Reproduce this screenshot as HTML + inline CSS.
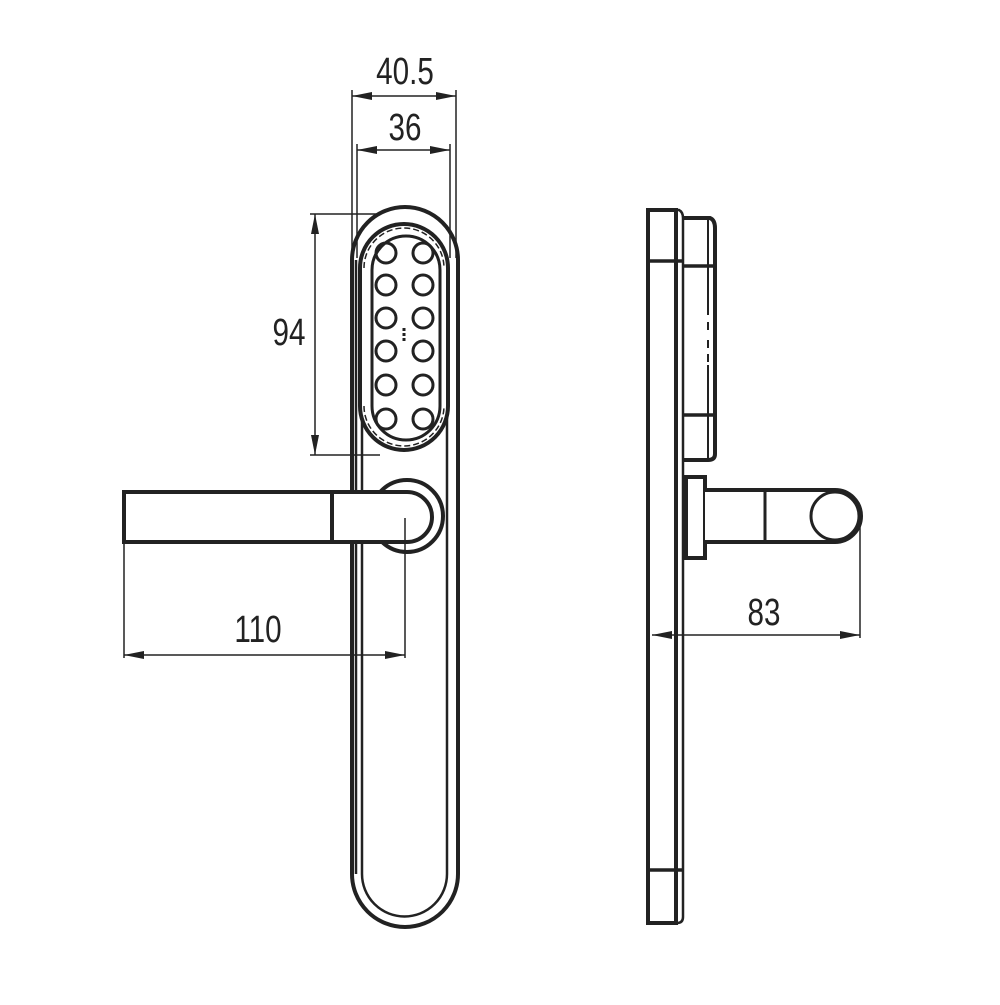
<!DOCTYPE html>
<html><head><meta charset="utf-8"><style>html,body{margin:0;padding:0;background:#fff}</style></head><body>
<svg width="1000" height="1000" viewBox="0 0 1000 1000" xmlns="http://www.w3.org/2000/svg">
<defs>
<marker id="a" viewBox="0 0 20 8" refX="20" refY="4" markerWidth="20" markerHeight="8" markerUnits="userSpaceOnUse" orient="auto-start-reverse"><path d="M0,0 L20,4 L0,8 Z" fill="#222"/></marker>
</defs>
<g fill="none" stroke="#222" stroke-linecap="butt">
<!-- front plate -->
<path d="M352,260 A53,53 0 0 1 458,260 L458,874 A53,53 0 0 1 352,874 Z" stroke-width="4"/>
<path d="M362,258 L362,874 A42,42 0 0 0 447,874 L447,258" stroke-width="2.5"/>
<path d="M356,260 L356,874" stroke-width="2.5"/>
<!-- keypad -->
<path d="M360,268 A44,44 0 0 1 448,268 L448,406 A44,44 0 0 1 360,406 Z" fill="#fff" stroke-width="4"/>
<path d="M372,270 A34,34 0 0 1 440,270 L440,406 A34,34 0 0 1 372,406 Z" stroke-width="3"/>
<path d="M364,268 A40,40 0 0 1 444,268" stroke-width="1.5" stroke-dasharray="6,3"/>
<path d="M364,406 A40,40 0 0 0 444,406" stroke-width="1.5" stroke-dasharray="6,3"/>
<g stroke-width="3">
<circle cx="386" cy="253" r="10"/><circle cx="423" cy="253" r="10"/>
<circle cx="386" cy="285" r="10"/><circle cx="423" cy="285" r="10"/>
<circle cx="386" cy="318" r="10"/><circle cx="423" cy="318" r="10"/>
<circle cx="386" cy="351" r="10"/><circle cx="423" cy="351" r="10"/>
<circle cx="386" cy="385" r="10"/><circle cx="423" cy="385" r="10"/>
<circle cx="386" cy="419" r="10"/><circle cx="423" cy="419" r="10"/>
</g>
<path d="M404,328 L404,342" stroke-width="3" stroke-dasharray="3,2"/>
<!-- rose & lever -->
<circle cx="407" cy="516" r="36" fill="#fff" stroke-width="4"/>
<path d="M124,492 L407,492 A25,25 0 0 1 407,542 L124,542 Z" fill="#fff" stroke-width="4"/>
<path d="M124,492 L124,542" stroke-width="1.5"/>
<path d="M332,492 L332,542" stroke-width="4"/>
<!-- dims front -->
<g stroke-width="1.5">
<path d="M352,90 L352,258 M456,90 L456,258"/>
<path d="M352,96 L456,96" marker-start="url(#a)" marker-end="url(#a)"/>
<path d="M357,144 L357,258 M450,144 L450,258"/>
<path d="M357,150 L450,150" marker-start="url(#a)" marker-end="url(#a)"/>
<path d="M310,214 L380,214 M310,455 L380,455"/>
<path d="M315,214 L315,455" marker-start="url(#a)" marker-end="url(#a)"/>
<path d="M124,542 L124,658 M405,518 L405,658"/>
<path d="M124,655 L405,655" marker-start="url(#a)" marker-end="url(#a)"/>
</g>
<!-- side view -->
<path d="M648,210 L676,210 L676,923 L648,923 Z" stroke-width="4"/>
<path d="M676,210 L679,210 Q683,212 683,218 L683,917 Q683,923 677,923" stroke-width="2.5"/>
<path d="M648,261 L683,261 M648,870 L683,870" stroke-width="3.5"/>
<path d="M683,218 L710,218 Q715,220 715,228 L715,454 Q715,460 708,460 L683,460" stroke-width="4"/>
<path d="M708,220 L708,315 M708,365 L708,458" stroke-width="2"/>
<path d="M708,322 L708,330 M708,340 L708,348 M708,354 L708,362" stroke-width="2"/>
<path d="M683,266 L715,266 M683,415 L715,415" stroke-width="3.5"/>
<path d="M686,477 L705,477 L705,558 L686,558 Z" stroke-width="4"/>
<path d="M705,490 L835,490 A26,26 0 0 1 835,542 L705,542" fill="#fff" stroke-width="4"/>
<path d="M765,490 L765,542" stroke-width="3"/>
<circle cx="835" cy="516" r="24" stroke-width="3"/>
<g stroke-width="1.5">
<path d="M860,518 L860,638"/>
<path d="M652,635 L860,635" marker-start="url(#a)" marker-end="url(#a)"/>
</g>
</g>
<g font-family="Liberation Sans, sans-serif" font-size="38" fill="#222" text-anchor="middle">
<text transform="translate(405,84) scale(0.78,1)">40.5</text>
<text transform="translate(405,140) scale(0.78,1)">36</text>
<text transform="translate(289,345) scale(0.78,1)">94</text>
<text transform="translate(258,642) scale(0.78,1)">110</text>
<text transform="translate(764,625) scale(0.78,1)">83</text>
</g>
</svg>
</body></html>
